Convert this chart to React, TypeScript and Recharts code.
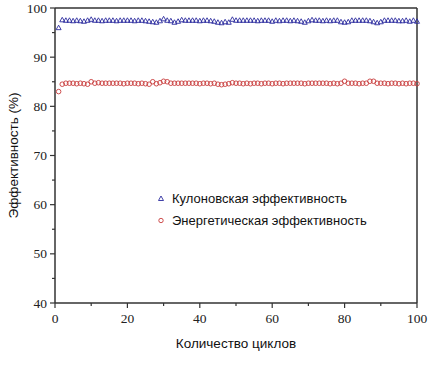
import { ScatterChart, Scatter, XAxis, YAxis, ReferenceLine } from 'recharts';

const cycles: number[] = Array.from({ length: 100 }, (_, i) => i + 1);

const coulombic: number[] = [
  96.0, 97.6, 97.5, 97.5, 97.4, 97.5, 97.4, 97.3, 97.5, 97.7,
  97.5, 97.5, 97.4, 97.5, 97.5, 97.5, 97.4, 97.5, 97.5, 97.5,
  97.5, 97.4, 97.5, 97.5, 97.4, 97.3, 97.2, 97.1, 97.4, 97.8,
  97.5, 97.4, 97.1, 97.3, 97.6, 97.5, 97.5, 97.5, 97.5, 97.4,
  97.5, 97.5, 97.4, 97.3, 97.1, 97.0, 97.2, 97.1, 97.7, 97.5,
  97.5, 97.5, 97.5, 97.5, 97.5, 97.4, 97.5, 97.5, 97.5, 97.3,
  97.5, 97.4, 97.5, 97.5, 97.4, 97.5, 97.4, 97.3, 97.1, 97.4,
  97.6, 97.5, 97.5, 97.4, 97.5, 97.4, 97.5, 97.5, 97.2, 97.1,
  97.2, 97.5, 97.5, 97.5, 97.5, 97.5, 97.4, 97.2, 97.0, 97.2,
  97.5, 97.5, 97.5, 97.5, 97.4, 97.4, 97.5, 97.3, 97.5, 97.3,
];

const energy: number[] = [
  83.0, 84.5, 84.7, 84.7, 84.7, 84.6, 84.7, 84.6, 84.5, 85.0,
  84.7, 84.8, 84.7, 84.7, 84.7, 84.7, 84.7, 84.7, 84.6, 84.7,
  84.7, 84.7, 84.6, 84.7, 84.6, 84.5, 85.0, 84.6, 84.8, 85.1,
  85.0, 84.7, 84.7, 84.7, 84.7, 84.7, 84.7, 84.7, 84.7, 84.6,
  84.7, 84.7, 84.6, 84.7, 84.5, 84.4, 84.5, 84.6, 84.8, 84.7,
  84.7, 84.6, 84.7, 84.6, 84.7, 84.7, 84.6, 84.7, 84.7, 84.6,
  84.7, 84.7, 84.6, 84.7, 84.7, 84.7, 84.7, 84.7, 84.6, 84.7,
  84.7, 84.7, 84.7, 84.7, 84.7, 84.6, 84.7, 84.6, 84.7, 85.1,
  84.7, 84.7, 84.7, 84.6, 84.7, 84.7, 85.1, 85.1, 84.7, 84.7,
  84.7, 84.6, 84.7, 84.7, 84.6, 84.7, 84.6, 84.7, 84.7, 84.6,
];

const xTicks = [0, 10, 20, 30, 40, 50, 60, 70, 80, 90, 100];
const yTicks = [40, 45, 50, 55, 60, 65, 70, 75, 80, 85, 90, 95, 100];

const SERIES_NAMES = ['Кулоновская эффективность', 'Энергетическая эффективность'];
const BLUE = '#2b2b9e';
const RED = '#c83c3c';
const AXIS = '#333';
const SERIF = "'Liberation Serif', 'DejaVu Serif', serif";
const SANS = "'Liberation Sans', Arial, sans-serif";

const coulombicData = cycles.map((c, i) => ({ x: c, y: coulombic[i] }));
const energyData = cycles.map((c, i) => ({ x: c, y: energy[i] }));

const Triangle = (props: any) => {
  const { cx, cy } = props;
  return (
    <path
      d={`M${cx},${cy - 2.5} L${cx + 2.5},${cy + 2} L${cx - 2.5},${cy + 2} Z`}
      fill="none"
      stroke={BLUE}
      strokeWidth={0.9}
    />
  );
};

const Ring = (props: any) => {
  const { cx, cy } = props;
  return <circle cx={cx} cy={cy} r={2.3} fill="none" stroke={RED} strokeWidth={0.9} />;
};

const XTick = (props: any) => {
  const { x, y, payload } = props;
  const axisY = y - 7;
  const major = payload.value % 20 === 0;
  return (
    <g>
      <line x1={x} x2={x} y1={axisY} y2={axisY + (major ? 5 : 3)} stroke={AXIS} strokeWidth={1.2} />
      {major && (
        <text x={x} y={axisY + 20} textAnchor="middle" style={{ fontFamily: SERIF, fontSize: 13.5 }} fill="#222">
          {payload.value}
        </text>
      )}
    </g>
  );
};

const YTick = (props: any) => {
  const { x, y, payload } = props;
  const axisX = x + 7;
  const major = payload.value % 10 === 0;
  return (
    <g>
      <line x1={axisX - (major ? 5 : 3)} x2={axisX} y1={y} y2={y} stroke={AXIS} strokeWidth={1.2} />
      {major && (
        <text x={axisX - 8} y={y + 4.5} textAnchor="end" style={{ fontFamily: SERIF, fontSize: 13.5 }} fill="#222">
          {payload.value}
        </text>
      )}
    </g>
  );
};

const LegendBox = () => (
  <div
    style={{
      position: 'absolute',
      left: 156,
      top: 188,
      fontFamily: SANS,
      fontSize: 13,
      color: '#111',
      lineHeight: '22px',
    }}
  >
    {SERIES_NAMES.map((name, i) => (
      <div key={name} style={{ display: 'flex', alignItems: 'center' }}>
        <svg width={12} height={10} style={{ marginRight: 4 }}>
          {i === 0 ? (
            <path d="M5,2 L7.5,6.5 L2.5,6.5 Z" fill="none" stroke={BLUE} strokeWidth={0.9} />
          ) : (
            <circle cx={5} cy={4.5} r={2.2} fill="none" stroke={RED} strokeWidth={0.9} />
          )}
        </svg>
        <span>{name}</span>
      </div>
    ))}
  </div>
);

export default function App() {
  return (
    <div style={{ position: 'absolute', left: 0, top: 0, width: 436, height: 365, background: '#fff' }}>
      <ScatterChart width={436} height={365} margin={{ top: 8, right: 19, left: 0, bottom: 0 }}>
        <XAxis
          type="number"
          dataKey="x"
          domain={[0, 100]}
          ticks={xTicks}
          interval={0}
          tickSize={5}
          tickMargin={2}
          tickLine={false}
          tick={<XTick />}
          height={62}
          axisLine={{ stroke: AXIS, strokeWidth: 1.5 }}
          label={{
            value: 'Количество циклов',
            position: 'insideBottom',
            offset: 17,
            style: { fontFamily: SANS, fontSize: 13.5, fill: '#111' },
          }}
        />
        <YAxis
          type="number"
          dataKey="y"
          domain={[40, 100]}
          ticks={yTicks}
          interval={0}
          tickSize={5}
          tickMargin={2}
          tickLine={false}
          tick={<YTick />}
          width={55}
          axisLine={{ stroke: AXIS, strokeWidth: 1.5 }}
          label={{
            value: 'Эффективность (%)',
            angle: -90,
            position: 'insideLeft',
            offset: 13,
            style: { textAnchor: 'middle', fontFamily: SANS, fontSize: 13.5, fill: '#111' },
          }}
        />
        <ReferenceLine y={100} stroke={AXIS} strokeWidth={1.5} />
        <ReferenceLine x={100} stroke={AXIS} strokeWidth={1.5} />
        <Scatter
          name={SERIES_NAMES[0]}
          data={coulombicData}
          shape={<Triangle />}
          isAnimationActive={false}
        />
        <Scatter
          name={SERIES_NAMES[1]}
          data={energyData}
          shape={<Ring />}
          isAnimationActive={false}
        />
      </ScatterChart>
      <LegendBox />
    </div>
  );
}
